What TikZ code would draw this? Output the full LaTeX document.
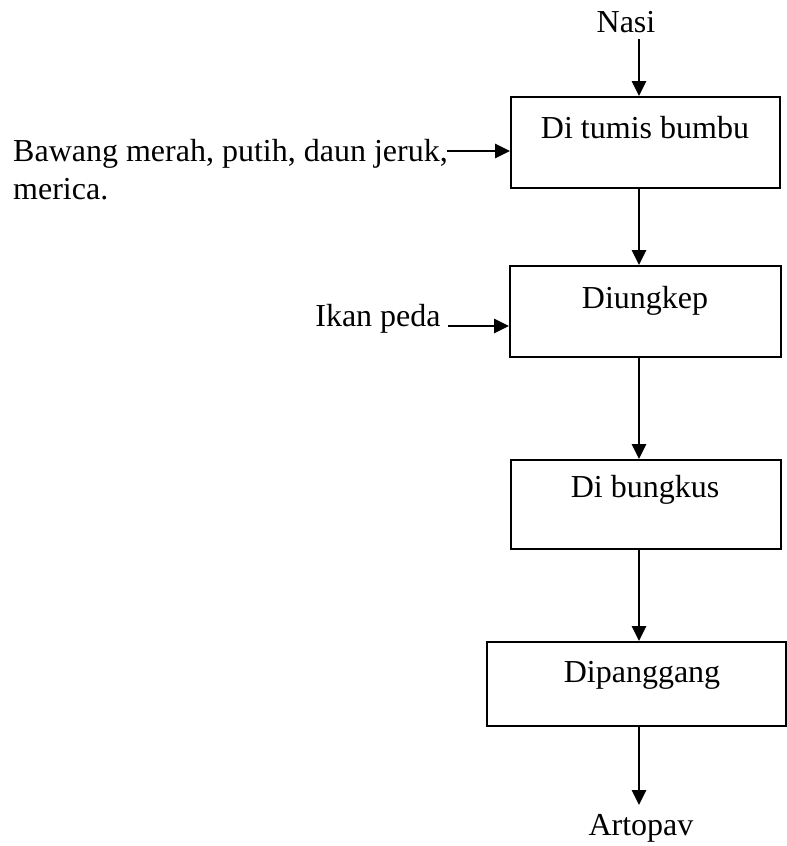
\documentclass[tikz,border=0pt]{standalone}
\usepackage{fontspec}
\setmainfont{Liberation Serif}
\usetikzlibrary{arrows.meta}
\begin{document}
\begin{tikzpicture}[x=1pt,y=-1pt,
  stage/.style={draw, line width=2pt, inner sep=0pt},
  lbl/.style={font=\fontsize{32}{38}\selectfont, inner sep=0pt},
  flow/.style={line width=2.8pt, -{Triangle[length=15pt,width=14pt]}}]
\useasboundingbox (0,0) rectangle (787,846);

% process boxes
\node[stage, minimum width=269pt, minimum height=91pt] (b1) at (645.5,142.5) {};
\node[stage, minimum width=271pt, minimum height=91pt] (b2) at (645.5,311.5) {};
\node[stage, minimum width=270pt, minimum height=89pt] (b3) at (646,504.5) {};
\node[stage, minimum width=299pt, minimum height=84pt] (b4) at (636.5,684) {};

% box captions
\node[lbl] (t1) at (645,127.5) {Di tumis bumbu};
\node[lbl] (t2) at (645,301) {Diungkep};
\node[lbl] (t3) at (645,490) {Di bungkus};
\node[lbl] (t4) at (642,675.5) {Dipanggang};

% inputs and output
\node[lbl] (nasi) at (626,22) {Nasi};
\node[lbl, align=left, anchor=north west] (bawang) at (13,139) {Bawang merah, putih, daun jeruk,\\merica.};
\node[lbl] (ikan) at (378,318.5) {Ikan peda};
\node[lbl] (artopav) at (641,828.5) {Artopav};

% connectors
\coordinate (spine) at (639,39);
\coordinate (bw) at (447,151);
\coordinate (ik) at (448,326);
\coordinate (out) at (639,805);
\draw[flow] (spine) -- (b1.north -| spine);
\draw[flow] (bw) -- (bw -| b1.west);
\draw[flow] (b1.south -| spine) -- (b2.north -| spine);
\draw[flow] (ik) -- (ik -| b2.west);
\draw[flow] (b2.south -| spine) -- (b3.north -| spine);
\draw[flow] (b3.south -| spine) -- (b4.north -| spine);
\draw[flow] (b4.south -| spine) -- (out);
\end{tikzpicture}
\end{document}
